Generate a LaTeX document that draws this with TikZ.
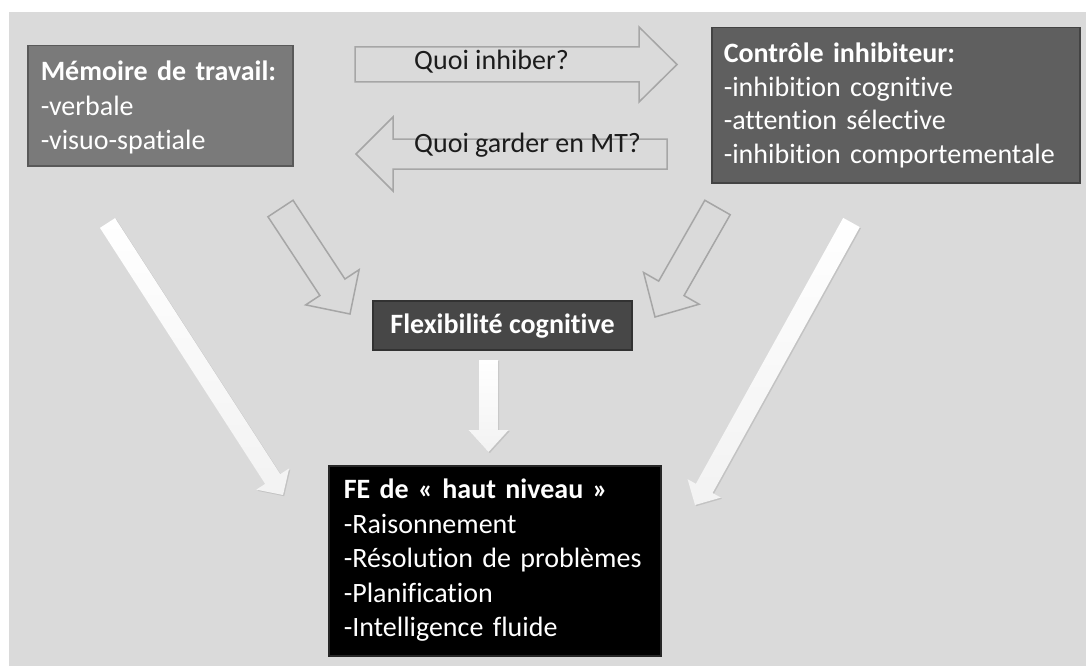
\documentclass[tikz,border=0pt]{standalone}
\usepackage{fontspec}
\setmainfont{Carlito}[Ligatures=NoCommon]
\usetikzlibrary{calc}
\definecolor{bg}{HTML}{DADADA}
\definecolor{mtfill}{HTML}{7A7A7A}
\definecolor{mtline}{HTML}{595959}
\definecolor{cifill}{HTML}{5F5F5F}
\definecolor{ciline}{HTML}{434343}
\definecolor{flexfill}{HTML}{474747}
\definecolor{flexline}{HTML}{323232}
\definecolor{fefill}{HTML}{000000}
\definecolor{feline}{HTML}{262626}
\definecolor{outl}{HTML}{A6A6A6}
\definecolor{txtdark}{HTML}{1C1C1C}
% #1 style, #2 tail, #3 tip, #4 body half width, #5 head half width, #6 head length
\newcommand\blockarrow[6]{%
  \coordinate (#2-h) at ($(#3)!#6!(#2)$);
  \draw[#1] ($(#2)!#4!90:(#3)$) -- ($(#2-h)!#4!90:(#3)$) -- ($(#2-h)!#5!90:(#3)$) -- (#3)
    -- ($(#2-h)!#5!-90:(#3)$) -- ($(#2-h)!#4!-90:(#3)$) -- ($(#2)!#4!-90:(#3)$) -- cycle;
}
\begin{document}
\begin{tikzpicture}[x=1pt,y=-1pt,
  boxtext/.style={text=white, align=left, inner ysep=0pt, anchor=north west, line width=1.5pt},
  outlinearrow/.style={fill=bg, draw=outl, line width=1.5pt, line join=miter},
  whitearrow/.style={top color=white, bottom color=black!5, draw=none,
    preaction={fill=black, opacity=0.1, transform canvas={shift={(1.2pt,-1.2pt)}}}},
  lbl/.style={font=\fontsize{28}{34}\selectfont, text=txtdark, anchor=base west, inner sep=0pt}]
\useasboundingbox (0,0) rectangle (1086,666);
\fill[white] (0,0) rectangle (1086,666);
\fill[bg] (9,12) rectangle (1086,666);

% arrow end points
\coordinate (qi-tail) at (355,64.5);   \coordinate (qi-tip) at (677,64.5);
\coordinate (qg-tail) at (667,154);    \coordinate (qg-tip) at (356,154);
\coordinate (sl-tail) at (280.5,208.5);\coordinate (sl-tip) at (350,314);
\coordinate (sr-tail) at (717.5,207.5);\coordinate (sr-tip) at (655,317);
\coordinate (bl-tail) at (107.5,223);  \coordinate (bl-tip) at (283,495);
\coordinate (br-tail) at (851.5,222.5);\coordinate (br-tip) at (695,505);
\coordinate (m-tail) at (488.5,360);   \coordinate (m-tip) at (488.5,452);

\blockarrow{outlinearrow}{qi-tail}{qi-tip}{17.5pt}{37.5pt}{38pt}
\blockarrow{outlinearrow}{qg-tail}{qg-tip}{15pt}{37pt}{37pt}
\blockarrow{outlinearrow}{sl-tail}{sl-tip}{15pt}{32pt}{32pt}
\blockarrow{outlinearrow}{sr-tail}{sr-tip}{14.6pt}{32pt}{33pt}
\blockarrow{whitearrow}{bl-tail}{bl-tip}{9pt}{19.5pt}{19pt}
\blockarrow{whitearrow}{br-tail}{br-tip}{9.5pt}{19pt}{19pt}
\blockarrow{whitearrow}{m-tail}{m-tip}{9.5pt}{20pt}{22pt}

\node[lbl] (lbl-inhib) at (414,70) {Quoi inhiber?};
\node[lbl] (lbl-garder) at (414,152) {Quoi garder en MT?};

\node[boxtext, font=\fontsize{28}{34.5}\selectfont, fill=mtfill, draw=mtline, text width=239pt, inner xsep=13pt] (mt) at (27,45)
  {\rule{0pt}{35pt}\mbox{\textbf{Mémoire de travail:}}\\-verbale\\\mbox{-visuo-spatiale}\rule[-16pt]{0pt}{16pt}};

\node[boxtext, font=\fontsize{28}{33.5}\selectfont, fill=cifill, draw=ciline, text width=344pt, inner xsep=12pt] (ci) at (711,27)
  {\rule{0pt}{35pt}\mbox{\textbf{Contrôle inhibiteur:}}\\\mbox{-inhibition cognitive}\\\mbox{-attention sélective}\\\mbox{-inhibition comportementale}\rule[-19.5pt]{0pt}{19.5pt}};

\node[font=\fontsize{28}{34}\selectfont\bfseries, text=white, fill=flexfill, draw=flexline, line width=1.5pt,
  minimum width=259pt, minimum height=49pt, inner sep=0pt, text height=21pt, text depth=5pt] (flex) at (502.5,325.5)
  {Flexibilité cognitive};

\node[boxtext, font=\fontsize{28}{34.5}\selectfont, fill=fefill, draw=feline, text width=302pt, inner xsep=15pt] (fe) at (328,465)
  {\rule{0pt}{33pt}\mbox{\textbf{FE de « haut niveau »}}\\\mbox{-Raisonnement}\\\mbox{-Résolution de problèmes}\\\mbox{-Planification}\\\mbox{-Intelligence fluide}\rule[-19pt]{0pt}{19pt}};
\end{tikzpicture}
\end{document}
